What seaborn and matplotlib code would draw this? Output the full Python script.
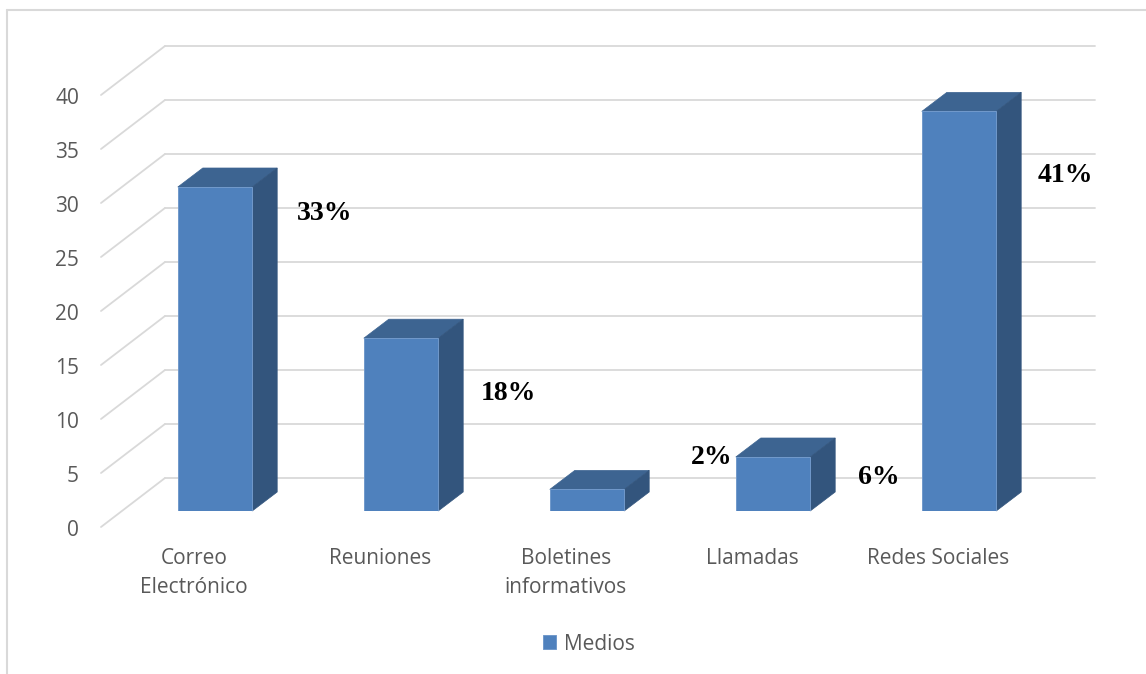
import matplotlib
matplotlib.use("Agg")
import matplotlib.pyplot as plt
import pandas as pd
import seaborn as sns
from matplotlib.patches import Polygon
from matplotlib.lines import Line2D

# ---- data -------------------------------------------------------------
categories = ["Correo\nElectrónico", "Reuniones", "Boletines\ninformativos",
              "Llamadas", "Redes Sociales"]
counts = [30, 16, 2, 5, 37]
series_name = "Medios"
y_ticks = [0, 5, 10, 15, 20, 25, 30, 35, 40]

# placement of the percentage labels: shift right of each bar (category
# units) and the height of the label centre (value units)
pct_dx = [0.59, 0.58, 0.67, 0.57, 0.57]
pct_y = [27.5, 10.9, 5.0, 3.1, 31.1]

# ---- style ------------------------------------------------------------
FRONT = "#4f81bd"
TOP = "#3d6491"
SIDE = "#33557d"
EDGE = "#7199cb"
GRID = "#d9d9d9"
TEXT = "#595959"

W, H, DPI = 1146, 674, 100
# pixel offsets of the back wall, the front floor edge and the bar depth
WALL = (43, 33)
FLOOR_FRONT = (-21, -16)
DEPTH = (25, 19)

sns.set_theme(style="white")
plt.rcParams["font.family"] = ["Open Sans", "DejaVu Sans"]

fig = plt.figure(figsize=(W / DPI, H / DPI), dpi=DPI)
ax = fig.add_axes([122 / W, 1 - 511 / H, 930 / W, 432 / H])

df = pd.DataFrame({"medio": categories, "valor": counts})
sns.barplot(data=df, x="medio", y="valor", color=FRONT, saturation=1,
            width=0.4, ax=ax, label=series_name, zorder=3,
            edgecolor=EDGE, linewidth=0.7)
ax.set_xlim(-0.5, 4.5)
ax.set_ylim(0, 40)
ax.axis("off")

# pixel -> data conversion factors
o = ax.transData.transform((0, 0))
px_cat = ax.transData.transform((1, 0))[0] - o[0]
px_val = ax.transData.transform((0, 1))[1] - o[1]


def off(p):
    return p[0] / px_cat, p[1] / px_val


wx, wy = off(WALL)
fx, fy = off(FLOOR_FRONT)
dx, dy = off(DEPTH)
x_lo, x_hi = ax.get_xlim()
label_pad_x = 22 / px_cat
label_drop = 3 / px_val

# back wall gridlines and the diagonal floor/side-wall lines
for v in y_ticks:
    ax.add_line(Line2D([x_lo + wx, x_hi + wx], [v + wy, v + wy],
                       color=GRID, lw=1.3, zorder=1, clip_on=False))
    ax.add_line(Line2D([x_lo + fx, x_lo + wx], [v + fy, v + wy],
                       color=GRID, lw=1.3, zorder=1, clip_on=False))
    ax.text(x_lo + fx - label_pad_x, v + fy - label_drop, str(v),
            ha="right", va="center", color=TEXT, fontsize=15)

# top and side faces of each column
for patch in ax.patches:
    x0, w, h = patch.get_x(), patch.get_width(), patch.get_height()
    top = [(x0, h), (x0 + w, h), (x0 + w + dx, h + dy), (x0 + dx, h + dy)]
    side = [(x0 + w, 0), (x0 + w, h), (x0 + w + dx, h + dy), (x0 + w + dx, dy)]
    ax.add_patch(Polygon(top, closed=True, facecolor=TOP, edgecolor=TOP,
                         lw=0.5, zorder=2.9, clip_on=False))
    ax.add_patch(Polygon(side, closed=True, facecolor=SIDE, edgecolor=SIDE,
                         lw=0.5, zorder=2.9, clip_on=False))

# category labels along the front edge of the floor
for i, cat in enumerate(categories):
    ax.text(i + fx, -3.4, cat, ha="center", va="top", color=TEXT,
            fontsize=15, linespacing=1.5)

# percentage of the total for each medium
total = sum(counts)
for i, c in enumerate(counts):
    ax.text(i + pct_dx[i], pct_y[i], f"{round(100 * c / total)}%",
            ha="center", va="center", color="black", fontsize=20,
            fontweight="bold", family=["Liberation Serif", "DejaVu Serif"],
            zorder=5)

leg = ax.legend(loc="center", bbox_to_anchor=(589 / W, 1 - 644 / H),
                bbox_transform=fig.transFigure, frameon=False,
                handlelength=0.62, handleheight=0.62, handletextpad=0.35,
                fontsize=15)
for t in leg.get_texts():
    t.set_color(TEXT)

# chart area border
fig.add_artist(Line2D([7 / W, 7 / W], [0, 1 - 10 / H], color=GRID, lw=1.5))
fig.add_artist(Line2D([7 / W, 1], [1 - 10 / H, 1 - 10 / H], color=GRID, lw=1.5))

fig.savefig("out.png", dpi=DPI)
